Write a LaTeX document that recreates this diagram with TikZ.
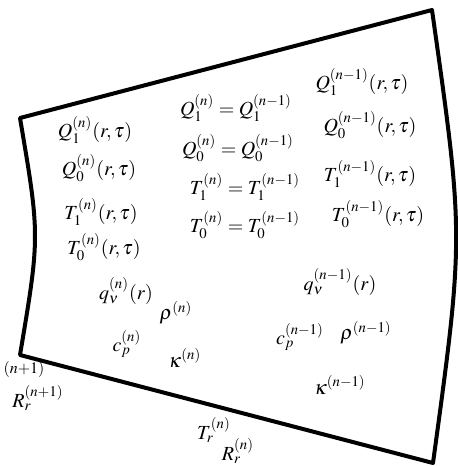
\documentclass[tikz,border=0pt]{standalone}
\usepackage{amsmath,amssymb}
\usepackage{mathptmx}
\usepackage{tikz}

\begin{document}
\begin{tikzpicture}[
    x=0.5pt, y=-0.5pt,
    lbl/.style={font=\normalsize, inner sep=0pt},
    frame/.style={draw, line width=2pt, line join=round}
]
    \useasboundingbox (0,0) rectangle (458,466);
    % Frame
    \draw [frame] (20,118) -- (432,10) .. controls (464,236) .. (433,463)
        -- (20,355) .. controls (40,236) .. cycle;

    % Nodes, layer n
    \node (q1n) [lbl] at (95,130) {$Q_1^{(n)}(r,\tau)$};
    \node (q0n) [lbl] at (99,168) {$Q_0^{(n)}(r,\tau)$};
    \node (t1n) [lbl] at (101,212) {$T_1^{(n)}(r,\tau)$};
    \node (t0n) [lbl] at (104,247) {$T_0^{(n)}(r,\tau)$};
    \node (qvn) [lbl] at (126,291) {$q_\nu^{(n)}(r)$};
    \node (rhon) [lbl] at (176,313) {$\rho^{(n)}$};
    \node (cpn) [lbl] at (127,344) {$c_p^{(n)}$};
    \node (kapn) [lbl] at (185,358) {$\boldsymbol{\kappa}^{(n)}$};

    % Nodes, interface
    \node (eqq1) [lbl] at (236,108) {$Q_1^{(n)}=Q_1^{(n-1)}$};
    \node (eqq0) [lbl] at (238,148) {$Q_0^{(n)}=Q_0^{(n-1)}$};
    \node (eqt1) [lbl] at (245,187) {$T_1^{(n)}=T_1^{(n-1)}$};
    \node (eqt0) [lbl] at (245,225) {$T_0^{(n)}=T_0^{(n-1)}$};

    % Nodes, layer n-1
    \node (q1m) [lbl] at (362,82) {$Q_1^{(n-1)}(r,\tau)$};
    \node (q0m) [lbl] at (370,125) {$Q_0^{(n-1)}(r,\tau)$};
    \node (t1m) [lbl] at (370,174) {$T_1^{(n-1)}(r,\tau)$};
    \node (t0m) [lbl] at (378,214) {$T_0^{(n-1)}(r,\tau)$};
    \node (qvm) [lbl] at (340,282) {$q_\nu^{(n-1)}(r)$};
    \node (cpm) [lbl] at (300,337) {$c_p^{(n-1)}$};
    \node (rhom) [lbl] at (366,333) {$\rho^{(n-1)}$};
    \node (kapm) [lbl] at (340,385) {$\boldsymbol{\kappa}^{(n-1)}$};

    % Nodes, outside
    \node (idxp) [lbl, font=\footnotesize] at (24,369) {$(n{+}1)$};
    \node (rrp) [lbl] at (38,398) {$R_r^{(n+1)}$};
    \node (trn) [lbl] at (214,430) {$T_r^{(n)}$};
    \node (rrn) [lbl] at (238,451) {$R_r^{(n)}$};
\end{tikzpicture}
\end{document}
